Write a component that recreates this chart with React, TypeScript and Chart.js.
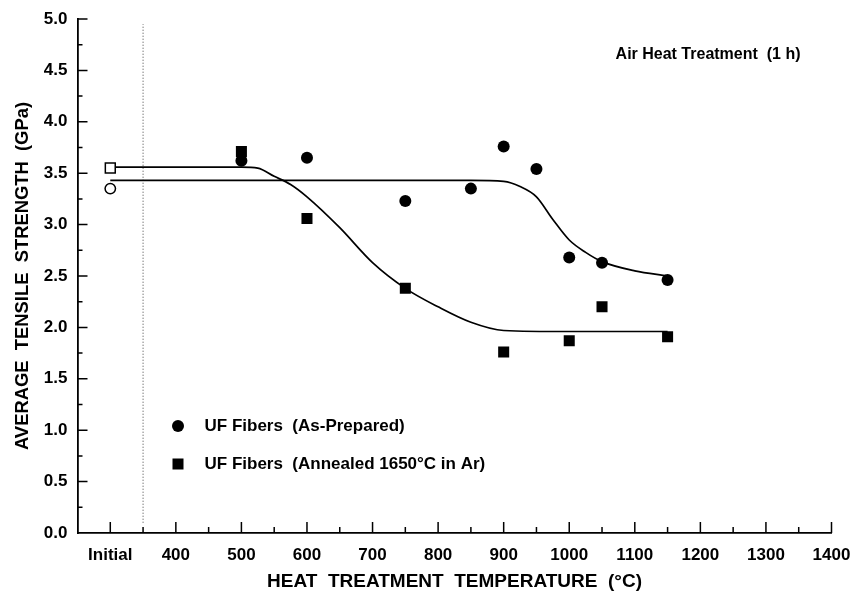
import React, { useEffect, useRef } from 'react';
import { Chart, registerables } from 'chart.js';

Chart.register(...registerables);

// ---- data ----
const initialTemp = 300; // the "Initial" position on the temperature axis
const initialAsPrepared = 3.35;
const initialAnnealed = 3.55;

const asPreparedTemps = [500, 600, 750, 850, 900, 950, 1000, 1050, 1150];
const asPreparedStrength = [3.62, 3.65, 3.23, 3.35, 3.76, 3.54, 2.68, 2.63, 2.46];

const annealedTemps = [500, 600, 750, 900, 1000, 1050, 1150];
const annealedStrength = [3.71, 3.06, 2.38, 1.76, 1.87, 2.2, 1.91];

const asPreparedCurveTemps = [300, 500, 700, 850, 900, 925, 950, 975, 1000, 1025, 1050, 1100, 1150];
const asPreparedCurveValues = [3.43, 3.43, 3.43, 3.43, 3.42, 3.37, 3.27, 3.05, 2.85, 2.73, 2.64, 2.55, 2.5];

const annealedCurveTemps = [300, 450, 500, 525, 550, 575, 600, 650, 700, 750, 800, 850, 900, 1000, 1150];
const annealedCurveValues = [3.56, 3.56, 3.56, 3.55, 3.47, 3.39, 3.27, 2.97, 2.63, 2.38, 2.2, 2.05, 1.97, 1.96, 1.96];

const referenceLineTemp = [350, 350];
const referenceLineValues = [0.1, 4.95];

const xMajorTicks = [300, 400, 500, 600, 700, 800, 900, 1000, 1100, 1200, 1300, 1400];
const xTickLabels = ['Initial', '400', '500', '600', '700', '800', '900', '1000', '1100', '1200', '1300', '1400'];
const xMinorTicks = [350, 450, 550, 650, 750, 850, 950, 1050, 1150, 1250, 1350];
const yMajorTicks = [0, 0.5, 1.0, 1.5, 2.0, 2.5, 3.0, 3.5, 4.0, 4.5, 5.0];
const yMinorTicks = [0.25, 0.75, 1.25, 1.75, 2.25, 2.75, 3.25, 3.75, 4.25, 4.75];

const seriesLabels = ['UF Fibers  (As-Prepared)', 'UF Fibers  (Annealed 1650°C in Ar)'];
const annotationText = 'Air Heat Treatment  (1 h)';
const xTitle = 'HEAT  TREATMENT  TEMPERATURE  (°C)';
const yTitle = 'AVERAGE  TENSILE  STRENGTH  (GPa)';

const FONT = '"Liberation Sans", Arial, Helvetica, sans-serif';

export default function App() {
  const canvasRef = useRef<HTMLCanvasElement | null>(null);

  useEffect(() => {
    document.body.style.margin = '0';
    const canvas = canvasRef.current;
    if (!canvas) return;

    const ticksPlugin = {
      id: 'inwardTicks',
      afterDatasetsDraw(chart: any) {
        const { ctx, scales } = chart;
        const xs = scales.x;
        const ys = scales.y;
        const bottom = ys.getPixelForValue(0);
        const left = xs.getPixelForValue(250);
        ctx.save();
        ctx.strokeStyle = '#000';
        ctx.lineWidth = 1.5;
        ctx.beginPath();
        xMajorTicks.forEach((v) => {
          const px = xs.getPixelForValue(v);
          ctx.moveTo(px, bottom);
          ctx.lineTo(px, bottom - 11);
        });
        xMinorTicks.forEach((v) => {
          const px = xs.getPixelForValue(v);
          ctx.moveTo(px, bottom);
          ctx.lineTo(px, bottom - 6);
        });
        yMajorTicks.forEach((v) => {
          if (v === 0) return;
          const py = ys.getPixelForValue(v);
          ctx.moveTo(left, py);
          ctx.lineTo(left + 10, py);
        });
        yMinorTicks.forEach((v) => {
          const py = ys.getPixelForValue(v);
          ctx.moveTo(left, py);
          ctx.lineTo(left + 5, py);
        });
        ctx.stroke();
        ctx.restore();
      },
    };

    const textPlugin = {
      id: 'legendAndNote',
      afterDatasetsDraw(chart: any) {
        const { ctx, chartArea } = chart;
        ctx.save();
        ctx.fillStyle = '#000';
        ctx.textBaseline = 'middle';
        // annotation
        ctx.font = `bold 16px ${FONT}`;
        ctx.textAlign = 'right';
        ctx.fillText(annotationText, chartArea.right - 31, chartArea.top + 36);
        // legend
        ctx.font = `bold 17px ${FONT}`;
        ctx.textAlign = 'left';
        const mx = chartArea.left + 100.5;
        const tx = chartArea.left + 127;
        const y1 = chartArea.top + 407;
        const y2 = chartArea.top + 445;
        ctx.beginPath();
        ctx.arc(mx, y1, 6, 0, Math.PI * 2);
        ctx.fill();
        ctx.fillRect(mx - 5.5, y2 - 5.5, 11, 11);
        ctx.fillText(seriesLabels[0], tx, y1);
        ctx.fillText(seriesLabels[1], tx, y2);
        ctx.restore();
      },
    };

    const chart = new Chart(canvas, {
      type: 'scatter',
      data: {
        datasets: [
          {
            label: 'Initial (As-Prepared)',
            data: [{ x: initialTemp, y: initialAsPrepared }],
            pointStyle: 'circle',
            pointRadius: 5.2,
            pointBackgroundColor: '#fff',
            pointBorderColor: '#000',
            pointBorderWidth: 1.5,
            showLine: false,
          },
          {
            label: 'Initial (Annealed)',
            data: [{ x: initialTemp, y: initialAnnealed }],
            pointStyle: 'rect',
            pointRadius: 7,
            pointBackgroundColor: '#fff',
            pointBorderColor: '#000',
            pointBorderWidth: 1.5,
            showLine: false,
          },
          {
            label: seriesLabels[0],
            data: asPreparedTemps.map((t, i) => ({ x: t, y: asPreparedStrength[i] })),
            pointStyle: 'circle',
            pointRadius: 6,
            pointBackgroundColor: '#000',
            pointBorderColor: '#000',
            pointBorderWidth: 0,
            showLine: false,
          },
          {
            label: seriesLabels[1],
            data: annealedTemps.map((t, i) => ({ x: t, y: annealedStrength[i] })),
            pointStyle: 'rect',
            pointRadius: 7.8,
            pointBackgroundColor: '#000',
            pointBorderColor: '#000',
            pointBorderWidth: 0,
            showLine: false,
          },
          {
            label: 'As-Prepared fit',
            data: asPreparedCurveTemps.map((t, i) => ({ x: t, y: asPreparedCurveValues[i] })),
            showLine: true,
            borderColor: '#000',
            borderWidth: 1.7,
            pointRadius: 0,
            cubicInterpolationMode: 'monotone',
          },
          {
            label: 'Annealed fit',
            data: annealedCurveTemps.map((t, i) => ({ x: t, y: annealedCurveValues[i] })),
            showLine: true,
            borderColor: '#000',
            borderWidth: 1.7,
            pointRadius: 0,
            cubicInterpolationMode: 'monotone',
          },
          {
            label: 'reference',
            data: referenceLineTemp.map((t, i) => ({ x: t, y: referenceLineValues[i] })),
            showLine: true,
            borderColor: '#444',
            borderWidth: 1,
            borderDash: [1, 2],
            pointRadius: 0,
          },
        ],
      },
      options: {
        responsive: false,
        animation: false,
        layout: { padding: { top: 19, right: 20.5, left: 0, bottom: 0 } },
        plugins: {
          legend: { display: false },
          tooltip: { enabled: false },
        },
        scales: {
          x: {
            type: 'linear',
            min: 250,
            max: 1400,
            grid: { display: false, drawTicks: false },
            border: { display: true, color: '#000', width: 1.8 },
            afterBuildTicks: (scale: any) => {
              scale.ticks = xMajorTicks.map((v) => ({ value: v }));
            },
            afterFit: (scale: any) => {
              scale.height = 65;
              scale.paddingLeft = 0;
              scale.paddingRight = 0;
            },
            ticks: {
              padding: 12,
              color: '#000',
              font: { family: FONT, size: 17, weight: 'bold' },
              maxRotation: 0,
              autoSkip: false,
              callback: (v: any) => {
                const idx = xMajorTicks.indexOf(Number(v));
                return idx >= 0 ? xTickLabels[idx] : '';
              },
            },
            title: {
              display: true,
              text: xTitle,
              color: '#000',
              font: { family: FONT, size: 19, weight: 'bold' },
              padding: { top: 0, bottom: 5 },
            },
          },
          y: {
            type: 'linear',
            min: 0,
            max: 5,
            grid: { display: false, drawTicks: false },
            border: { display: true, color: '#000', width: 1.8 },
            afterBuildTicks: (scale: any) => {
              scale.ticks = yMajorTicks.map((v) => ({ value: v }));
            },
            afterFit: (scale: any) => {
              scale.width = 77.5;
              scale.paddingTop = 0;
              scale.paddingBottom = 0;
            },
            ticks: {
              padding: 10,
              color: '#000',
              font: { family: FONT, size: 17, weight: 'bold' },
              autoSkip: false,
              callback: (v: any) => Number(v).toFixed(1),
            },
            title: {
              display: true,
              text: yTitle,
              color: '#000',
              font: { family: FONT, size: 18.4, weight: 'bold' },
              padding: { top: 12, bottom: 0 },
            },
          },
        },
      },
      plugins: [ticksPlugin, textPlugin],
    } as any);

    return () => {
      chart.destroy();
    };
  }, []);

  return (
    <div style={{ width: 852, height: 598, background: '#fff' }}>
      <canvas ref={canvasRef} width={852} height={598} style={{ display: 'block' }} />
    </div>
  );
}
